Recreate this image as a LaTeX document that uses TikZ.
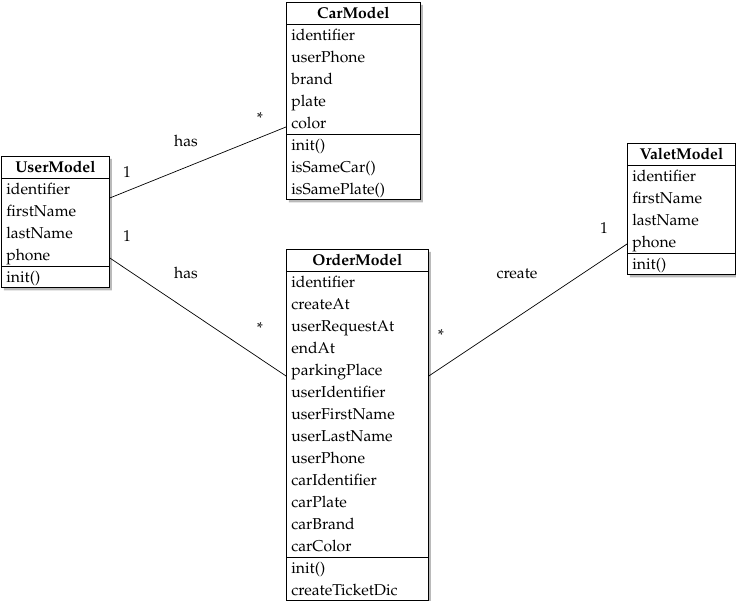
\documentclass[tikz,border=0pt]{standalone}
\usepackage[T1]{fontenc}
\usepackage{mathpazo}
\usetikzlibrary{shapes.multipart,shadows}

\newcommand{\rowstrut}{\rule[-5pt]{0pt}{21pt}}

\begin{document}
\begin{tikzpicture}[
  x=1pt, y=-1pt,
  every node/.style={font=\fontsize{15.7}{22}\selectfont},
  umlclass/.style={draw, line width=0.8pt, fill=white, anchor=north west,
    rectangle split, rectangle split parts=3,
    rectangle split part align={center,left,left},
    inner xsep=5pt, inner ysep=0pt, align=left,
    drop shadow={shadow xshift=2.5pt, shadow yshift=-2.5pt, fill=black!45, opacity=0.6}},
  assoc/.style={line width=0.7pt},
  mult/.style={inner sep=0pt}
]
\useasboundingbox (0,0) rectangle (736,601);

% classes
\node[umlclass, minimum width=108pt] (user) at (1,156) {\rowstrut\textbf{UserModel}
  \nodepart{second}\rowstrut identifier\\firstName\\lastName\\phone\rowstrut
  \nodepart{third}\rowstrut init()};
\node[umlclass, minimum width=134pt] (car) at (286,2) {\rowstrut\textbf{CarModel}
  \nodepart{second}\rowstrut identifier\\userPhone\\brand\\plate\\color\rowstrut
  \nodepart{third}\rowstrut init()\\isSameCar()\\isSamePlate()\rowstrut};
\node[umlclass, minimum width=108pt] (valet) at (627,143) {\rowstrut\textbf{ValetModel}
  \nodepart{second}\rowstrut identifier\\firstName\\lastName\\phone\rowstrut
  \nodepart{third}\rowstrut init()};
\node[umlclass, minimum width=142pt] (order) at (286,249) {\rowstrut\textbf{OrderModel}
  \nodepart{second}\rowstrut identifier\\createAt\\userRequestAt\\endAt\\parkingPlace\\userIdentifier\\userFirstName\\userLastName\\userPhone\\carIdentifier\\carPlate\\carBrand\\carColor\rowstrut
  \nodepart{third}\rowstrut init()\\createTicketDic\rowstrut};

% associations
\draw[assoc] ([yshift=-42pt]user.north east) -- ([yshift=-125pt]car.north west);
\draw[assoc] ([yshift=-102pt]user.north east) -- ([yshift=-127pt]order.north west);
\draw[assoc] ([yshift=-127pt]order.north east) -- ([yshift=-101pt]valet.north west);

% labels and multiplicities
\node (hascar) at (186,141) {has};
\node[mult] (usercarone) at (127,172) {1};
\node[mult] (usercarmany) at (260,118) {*};
\node (hasorder) at (186,273) {has};
\node[mult] (userorderone) at (127,236) {1};
\node[mult] (userordermany) at (260,328) {*};
\node (create) at (517,274) {create};
\node[mult] (valetorderone) at (604,228) {1};
\node[mult] (valetordermany) at (441,335) {*};
\end{tikzpicture}
\end{document}
